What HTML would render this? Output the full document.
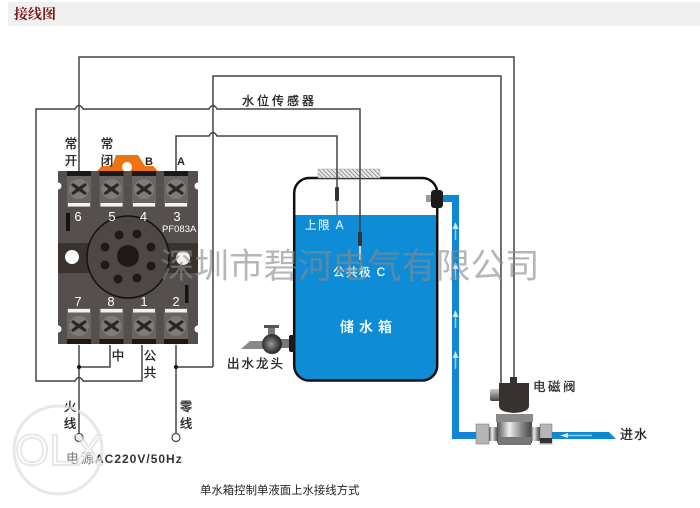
<!DOCTYPE html>
<html><head><meta charset="utf-8"><style>
html,body{margin:0;padding:0;background:#fff}
svg{display:block}
text{font-family:"Liberation Sans","Noto Sans CJK SC",sans-serif}
</style></head><body>
<svg width="700" height="508" viewBox="0 0 700 508" xmlns="http://www.w3.org/2000/svg">
<defs>
<pattern id="h" width="3" height="3" patternUnits="userSpaceOnUse" patternTransform="rotate(-45)"><rect width="3" height="3" fill="#e8e8e8"/><rect width="1" height="3" fill="#999"/></pattern>
<linearGradient id="m" x1="0" x2="1" y1="0" y2="0"><stop offset="0" stop-color="#555"/><stop offset=".35" stop-color="#eee"/><stop offset=".7" stop-color="#888"/><stop offset="1" stop-color="#444"/></linearGradient>
<linearGradient id="v" x1="0" x2="0" y1="0" y2="1"><stop offset="0" stop-color="#ccc"/><stop offset=".4" stop-color="#999"/><stop offset="1" stop-color="#444"/></linearGradient>
<radialGradient id="b" cx=".45" cy=".5" r=".6"><stop offset="0" stop-color="#999"/><stop offset=".6" stop-color="#444"/><stop offset="1" stop-color="#1a1a1a"/></radialGradient>
<g id="t"><rect x="-12" y="0" width="24" height="36" fill="#6a6560"/><rect x="-12" y="0" width="24" height="5" fill="#1c1816"/><circle cx="0" cy="18" r="10" fill="#7f7b76"/><path d="M-6-5L0-1L6-5L8-3L3 1L8 5L6 7L0 3L-6 7L-8 5L-3 1L-8-3Z" transform="translate(0 17)" fill="#2b2725"/><rect x="-11" y="32" width="22" height="3.500" fill="#f2f2f2"/></g>
<g id="u"><rect x="-12" y="0" width="24" height="36" fill="#6a6560"/><rect x="-12" y="31" width="24" height="5" fill="#1c1816"/><circle cx="0" cy="18" r="10" fill="#7f7b76"/><path d="M-6-5L0-1L6-5L8-3L3 1L8 5L6 7L0 3L-6 7L-8 5L-3 1L-8-3Z" transform="translate(0 17)" fill="#2b2725"/><rect x="-11" y="1" width="22" height="3.500" fill="#f2f2f2"/></g>
</defs>
<rect width="700" height="508" fill="#fff"/>
<!-- header -->
<rect x="8" y="2" width="692" height="24" fill="#f0f0f0"/>
<text x="14" y="19" font-size="14" font-weight="700" fill="#7a1414" style="font-family:'Noto Serif CJK SC',serif">接线图</text>

<!-- water pipes -->
<path d="M438 198.500H455.500V435.500H608" fill="none" stroke="#1087d2" stroke-width="7"/>
<path d="M600 432H609L616 439H600Z" fill="#1087d2"/>
<g fill="#cfeaf8"><path d="M455.500 222l3 7h-6z"/><path d="M455.500 262l3 7h-6z"/><path d="M455.500 310l3 7h-6z"/><path d="M455.500 351l3 7h-6z"/><path d="M560 435.500l8-2.500v5z"/></g>
<path d="M568 435.500H592" stroke="#8fd0f0" stroke-width="1.500"/>
<g stroke="#8fd0f0" stroke-width="1.500"><path d="M455.500 229V240"/><path d="M455.500 269V280"/><path d="M455.500 317V328"/><path d="M455.500 358V369"/></g>

<!-- tank -->
<path d="M295 215H436V366Q436 380 422 380H309Q295 380 295 366Z" fill="#0f8cd6"/>
<rect x="294.200" y="178" width="143" height="202.500" rx="15" fill="none" stroke="#111" stroke-width="2.500"/>
<rect x="318" y="169" width="62" height="9" fill="url(#h)" stroke="#aaa" stroke-width=".5"/>
<!-- fitting -->
<rect x="426" y="195" width="6" height="7" fill="#999"/>
<rect x="431" y="190" width="12" height="18" rx="3" fill="#1e1a1a"/>

<!-- wires -->
<g fill="none" stroke="#444" stroke-width="1.500">
<path d="M79 171V57H514V378"/>
<path d="M213 367V76H501V386"/>
<path d="M142 345V381H83Q79 374 75 381H36V109H75Q79 102 83 109H209Q213 102 217 109H360V262"/>
<path d="M176 171V136H209Q213 129 217 136H337V190"/>
<path d="M79 345V435"/>
<path d="M110 345V367H79"/>
<path d="M176 345V433"/>
<path d="M176 367H213"/>
</g>
<circle cx="79" cy="367" r="2" fill="#111"/><circle cx="176" cy="367" r="2" fill="#111"/>
<circle cx="79" cy="437.500" r="4" fill="#fff" stroke="#444" stroke-width="1.200"/>
<circle cx="176" cy="437.500" r="4" fill="#fff" stroke="#444" stroke-width="1.200"/>
<!-- probes -->
<rect x="335" y="187" width="4" height="14" rx="1" fill="#333"/><rect x="336" y="201" width="2" height="14" fill="#999"/>
<rect x="358" y="232" width="4" height="14" rx="1" fill="#333"/><rect x="359" y="246" width="2" height="14" fill="#c8d8e0"/>

<!-- relay base -->
<path d="M97 171L102 166H112L116 155H138L145 166H153L158 171Z" fill="#ee7410"/>
<circle cx="127" cy="167" r="5" fill="#fff"/>
<path d="M58 171H198V344H58Z" fill="#55504d"/>
<rect x="58" y="243" width="33" height="30" fill="#38332f"/><rect x="165" y="243" width="33" height="30" fill="#38332f"/>
<g fill="#fff"><circle cx="58" cy="186" r="3.500"/><circle cx="198" cy="186" r="3.500"/><circle cx="58" cy="329" r="3.500"/><circle cx="198" cy="329" r="3.500"/></g>
<use href="#t" x="79" y="171"/><use href="#t" x="111.500" y="171"/><use href="#t" x="144" y="171"/><use href="#t" x="176" y="171"/>
<use href="#u" x="79" y="308"/><use href="#u" x="111.500" y="308"/><use href="#u" x="144" y="308"/><use href="#u" x="176" y="308"/>
<circle cx="128" cy="257" r="41" fill="#4d4845" stroke="#15110f" stroke-width="1.500"/>
<circle cx="128" cy="256" r="11" fill="#1f1a18"/>
<g fill="#1f1a18"><circle cx="119" cy="235" r="4.500"/><circle cx="137" cy="234" r="4.500"/><circle cx="105" cy="247" r="4.500"/><circle cx="151" cy="247" r="4.500"/><circle cx="105" cy="265" r="4.500"/><circle cx="151" cy="266" r="4.500"/><circle cx="118" cy="279" r="4.500"/><circle cx="137" cy="278" r="4.500"/></g>
<circle cx="72" cy="257" r="7" fill="#fff"/><circle cx="183" cy="258" r="7" fill="#f2f2f2"/>
<rect x="66" y="213" width="4" height="18" fill="#151210"/><rect x="185" y="285" width="3.500" height="18" fill="#151210"/>
<g fill="#fff" font-size="13" text-anchor="middle"><text x="78" y="221">6</text><text x="112" y="221">5</text><text x="143.500" y="221">4</text><text x="177" y="221">3</text><text x="78" y="306">7</text><text x="111" y="306">8</text><text x="144" y="306">1</text><text x="176" y="306">2</text></g>
<text x="162" y="232" font-size="9.500" fill="#fff">PF083A</text>

<!-- faucet -->
<path d="M241 349L250 341H266V349Z" fill="#888"/>
<rect x="264" y="325" width="15" height="3" fill="#555"/><rect x="268" y="328" width="7" height="10" fill="#777"/>
<rect x="280" y="339" width="10" height="9" fill="#777"/>
<circle cx="272" cy="344" r="10" fill="url(#b)"/>
<rect x="289" y="335" width="6" height="17" rx="2" fill="#1e1a1a"/>

<!-- solenoid valve -->
<rect x="490" y="389" width="10" height="12" rx="2" fill="url(#v)"/>
<path d="M499 383H529V406Q529 412 514 413Q499 412 499 406Z" fill="#37312f"/>
<rect x="510" y="377" width="7" height="7" fill="#333"/>
<rect x="496" y="414" width="37" height="8" fill="#8a8a8a"/>
<rect x="497" y="422" width="35" height="21" fill="url(#m)"/>
<rect x="498" y="437" width="33" height="8" fill="#777"/>
<rect x="476" y="424" width="13" height="20" fill="#b5b5b5" stroke="#666" stroke-width=".5"/>
<rect x="489" y="427" width="9" height="14" fill="url(#m)"/>
<rect x="531" y="427" width="9" height="14" fill="url(#m)"/>
<rect x="540" y="424" width="12" height="20" fill="#b5b5b5" stroke="#666" stroke-width=".5"/>
<rect x="540" y="438" width="12" height="5" fill="#333"/>

<!-- labels -->
<g fill="#222" stroke="#222" stroke-width=".3" font-size="12.500" text-anchor="middle">
<text x="71" y="148">常</text><text x="71" y="165">开</text>
<text x="107" y="148">常</text><text x="107" y="165">闭</text>
<text x="118" y="360">中</text><text x="150" y="360">公</text><text x="150" y="377">共</text>
<text x="70" y="411">火</text><text x="70" y="428">线</text>
<text x="186" y="411">零</text><text x="186" y="428">线</text>
</g>
<text x="149" y="165" font-size="11" font-weight="700" text-anchor="middle" fill="#222">B</text>
<text x="181" y="165" font-size="11" font-weight="700" text-anchor="middle" fill="#222">A</text>
<text x="242" y="105" font-size="12" letter-spacing="3" fill="#222" stroke="#222" stroke-width=".3">水位传感器</text>
<text x="305" y="229" font-size="11.500" letter-spacing="1.500" fill="#d8f0fb" stroke="#d8f0fb" stroke-width=".2">上限 A</text>
<text x="333" y="276" font-size="11.500" letter-spacing="1.500" fill="#eaf8ff" stroke="#eaf8ff" stroke-width=".3">公共极 C</text>
<text x="340" y="332" font-size="14" font-weight="700" letter-spacing="5" fill="#e8f8ff">储水箱</text>
<text x="227" y="368" font-size="12.500" letter-spacing="2" fill="#222" stroke="#222" stroke-width=".3">出水龙头</text>
<text x="533" y="391" font-size="12.500" letter-spacing="2.500" fill="#333" stroke="#333" stroke-width=".3">电磁阀</text>
<text x="620" y="439" font-size="13" letter-spacing="1" fill="#222" stroke="#222" stroke-width=".3">进水</text>
<text x="95" y="463" font-size="12" font-weight="700" letter-spacing="1" fill="#333">AC220V/50Hz</text>
<text x="66" y="463" font-size="13" letter-spacing="2" fill="#777">电源</text>
<text x="200" y="494" font-size="11.400" fill="#222">单水箱控制单液面上水接线方式</text>

<!-- watermarks -->
<text x="160" y="278" font-size="34.500" fill="#8a8a8a" opacity=".62" style="font-family:'WenQuanYi Zen Hei','Noto Sans CJK SC',sans-serif">深圳市碧河电气有限公司</text>
<g opacity=".7">
<circle cx="58" cy="450" r="44" fill="none" stroke="#ddd" stroke-width="3"/>
<text x="15" y="465" font-size="44" fill="#fff" stroke="#ddd" stroke-width="2" style="font-family:'Liberation Sans',sans-serif">OLX</text>
</g>
</svg>
</body></html>
